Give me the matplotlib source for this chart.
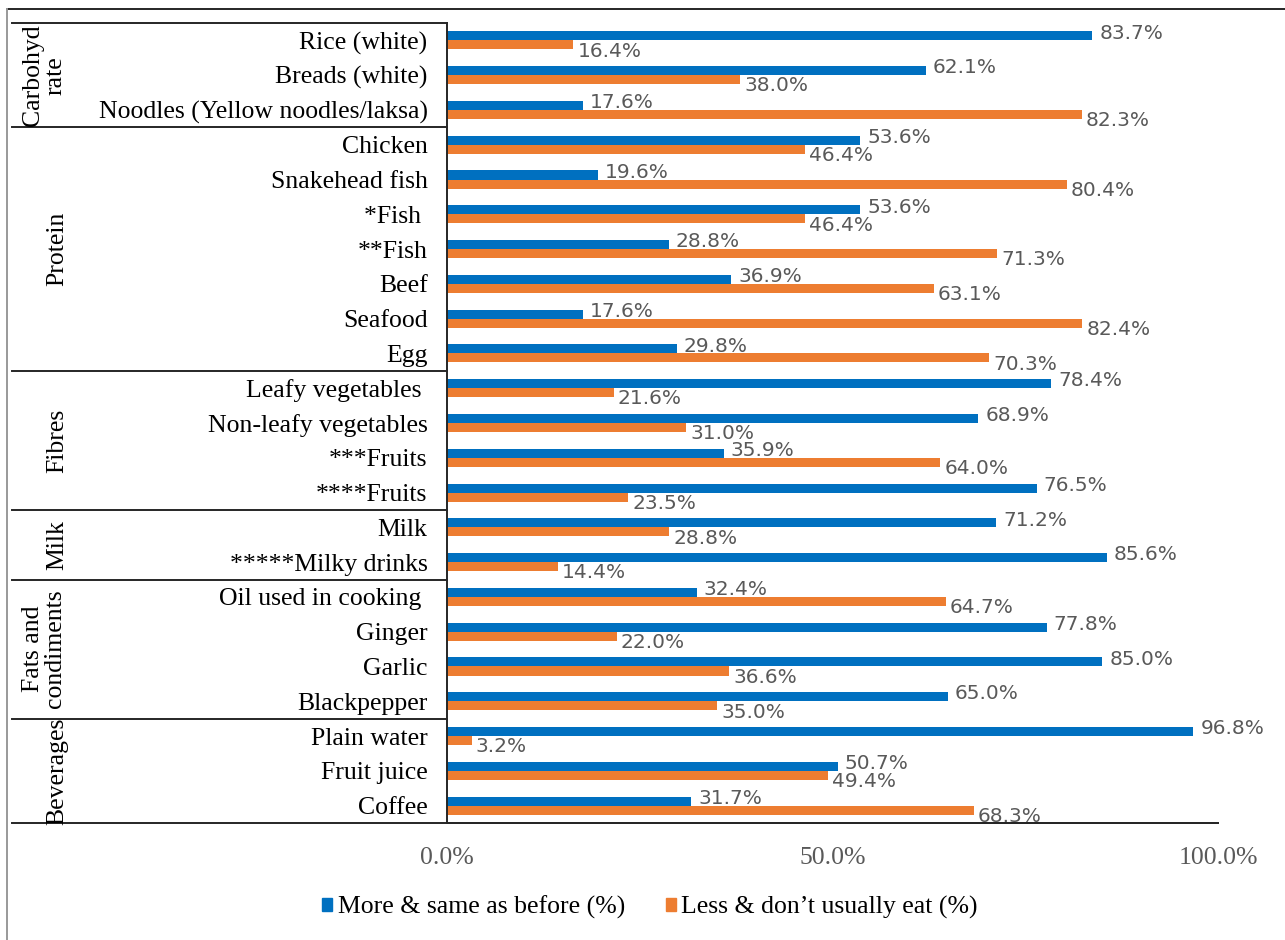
import matplotlib.pyplot as plt
import matplotlib.transforms as mtransforms
from matplotlib.patches import Patch
from matplotlib.lines import Line2D
import numpy as np

foods = ['Rice (white)', 'Breads (white)', 'Noodles (Yellow noodles/laksa)',
         'Chicken', 'Snakehead fish', '*Fish ', '**Fish', 'Beef', 'Seafood', 'Egg',
         'Leafy vegetables ', 'Non-leafy vegetables', '***Fruits', '****Fruits',
         'Milk', '*****Milky drinks',
         'Oil used in cooking ', 'Ginger', 'Garlic', 'Blackpepper',
         'Plain water', 'Fruit juice', 'Coffee']
more_same = [83.7, 62.1, 17.6,
             53.6, 19.6, 53.6, 28.8, 36.9, 17.6, 29.8,
             78.4, 68.9, 35.9, 76.5,
             71.2, 85.6,
             32.4, 77.8, 85.0, 65.0,
             96.8, 50.7, 31.7]
less_not = [16.4, 38.0, 82.3,
            46.4, 80.4, 46.4, 71.3, 63.1, 82.4, 70.3,
            21.6, 31.0, 64.0, 23.5,
            28.8, 14.4,
            64.7, 22.0, 36.6, 35.0,
            3.2, 49.4, 68.3]
groups = ['Carbohyd\nrate', 'Protein', 'Fibres', 'Milk', 'Fats and\ncondiments', 'Beverages']
group_sizes = [3, 7, 4, 2, 4, 3]
series_names = ['More & same as before (%)', 'Less & don\u2019t usually eat (%)']
xticks = [0, 50, 100]

blue = '#0070C0'
orange = '#ED7D31'
serif = ['Liberation Serif', 'DejaVu Serif']

fig = plt.figure(figsize=(12.85, 9.4), dpi=100)
ax = fig.add_axes([447/1285, 1-823/940, (1218-447)/1285, (823-23)/940])

y = np.arange(len(foods))
h = 0.26
ax.barh(y - h/2, more_same, height=h, color=blue)
ax.barh(y + h/2, less_not, height=h, color=orange)
ax.set_ylim(len(foods) - 0.5, -0.5)
ax.set_xlim(0, 100)

# data labels (blue a little above its bar, orange a little below)
for i in range(len(foods)):
    ax.annotate(f'{more_same[i]:.1f}%', (more_same[i], y[i] - h/2), xytext=(5, 2),
                textcoords='offset points', va='center', ha='left',
                fontsize=14.5, color='#595959')
    ax.annotate(f'{less_not[i]:.1f}%', (less_not[i], y[i] + h/2), xytext=(3, -4.5),
                textcoords='offset points', va='center', ha='left',
                fontsize=14.5, color='#595959')

ax.set_yticks(y)
ax.set_yticklabels(foods, fontfamily=serif, fontsize=18.5)
ax.set_xticks(xticks)
ax.set_xticklabels([f'{v:.1f}%' for v in xticks], fontfamily=serif, fontsize=18.5, color='#595959')
ax.tick_params(axis='y', length=0, pad=14)
ax.tick_params(axis='x', length=0, pad=17)
for s in ['top', 'right']:
    ax.spines[s].set_visible(False)
for s in ['left', 'bottom']:
    ax.spines[s].set_color('#262626')
    ax.spines[s].set_linewidth(1.4)

# left category table
trans = mtransforms.blended_transform_factory(fig.transFigure, ax.transData)
x_left = 12/1285
x_ax = 447/1285
start = 0
ax.add_line(Line2D([x_left, x_ax], [-0.5, -0.5], transform=trans, color='#262626', lw=1.4, clip_on=False))
for g, n in zip(groups, group_sizes):
    end = start + n
    ax.add_line(Line2D([x_left, 1218/1285 if end == len(foods) else x_ax], [end - 0.5, end - 0.5],
                       transform=trans, color='#262626', lw=1.4, clip_on=False))
    xc = 44/1285 if '\n' in g else 57/1285
    ax.text(xc, (start + end - 1)/2, g, transform=trans, rotation=90, ha='center', va='center',
            multialignment='center', fontfamily=serif, fontsize=18.5, linespacing=1.0)
    start = end

# outer frame
fig.add_artist(Line2D([7/1285, 1], [1-9/940, 1-9/940], color='#262626', lw=1.4))
fig.add_artist(Line2D([7/1285, 7/1285], [0, 1-9/940], color='#999999', lw=1.4))

handles = [Patch(color=blue), Patch(color=orange)]
fig.legend(handles, series_names, loc='center', bbox_to_anchor=(650/1285, 1-907/940), ncol=2,
           frameon=False, prop={'family': serif, 'size': 18.5}, handlelength=0.4, handleheight=0.4,
           handletextpad=0.2, columnspacing=1.6)

fig.savefig('out.png', dpi=100)
